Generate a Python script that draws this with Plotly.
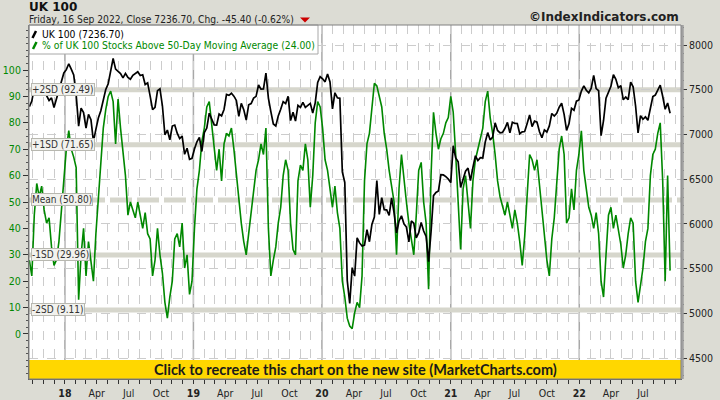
import pandas as pd
import plotly.graph_objects as go

# ---------------- data (weekly readings, Fridays) ----------------
week_start = "2017-09-22"

uk100 = [
    7310, 7373, 7522, 7535, 7523, 7505, 7560, 7433, 7380, 7409,
    7300, 7394, 7490, 7603, 7688, 7724, 7790, 7730, 7665, 7443,
    7092, 7294, 7244, 7070, 7224, 7164, 6922, 7057, 7184, 7265,
    7368, 7502, 7567, 7724, 7850, 7730, 7701, 7681, 7633, 7682,
    7637, 7617, 7661, 7678, 7701, 7659, 7667, 7558, 7577, 7432,
    7277, 7304, 7490, 7510, 7318, 6996, 7049, 6940, 7094, 7105,
    7014, 6953, 6980, 6778, 6845, 6721, 6733, 6837, 6918, 6968,
    6809, 7020, 7071, 7237, 7178, 7107, 7104, 7228, 7208, 7279,
    7447, 7437, 7460, 7428, 7380, 7203, 7348, 7277, 7161, 7331,
    7345, 7407, 7426, 7553, 7506, 7508, 7686, 7407, 7254, 7117,
    7095, 7207, 7282, 7367, 7345, 7426, 7155, 7247, 7150, 7324,
    7302, 7359, 7302, 7327, 7347, 7240, 7353, 7582, 7645, 7622,
    7588, 7675, 7586, 7286, 7466, 7409, 7404, 6581, 6463, 5366,
    5110, 5510, 5416, 5843, 5787, 5752, 5763, 5936, 5800, 5993,
    6077, 6484, 6105, 6293, 6159, 6157, 6095, 6290, 6123, 5898,
    6032, 6090, 6001, 5964, 5799, 6032, 6007, 5843, 5902, 6016,
    5920, 5860, 5577, 5910, 6316, 6351, 6368, 6550, 6547, 6529,
    6502, 6461, 6873, 6736, 6695, 6407, 6489, 6589, 6624, 6483,
    6631, 6761, 6709, 6741, 6737, 6916, 7020, 6938, 6970, 7130,
    7044, 7018, 7023, 7069, 7134, 7017, 7136, 7123, 7122, 7008,
    7028, 7032, 7123, 7218, 7087, 7148, 7138, 7029, 6963, 7051,
    7027, 7095, 7234, 7205, 7237, 7304, 7348, 7224, 7044, 7122,
    7292, 7270, 7372, 7385, 7485, 7543, 7494, 7466, 7516, 7661,
    7513, 7489, 6987, 7156, 7405, 7483, 7538, 7669, 7616, 7521,
    7545, 7388, 7418, 7390, 7585, 7533, 7318, 7016, 7209, 7169,
    7196, 7159, 7276, 7423, 7440, 7501, 7551, 7427, 7281, 7351,
    7236.70,
]

pct_above_50dma = [
    28, 22, 45, 57, 52, 56, 47, 42, 44, 33,
    26, 28, 35, 46, 58, 70, 77, 70, 67, 63,
    13, 30, 40, 22, 35, 28, 20, 38, 52, 68,
    78, 85, 90, 92, 88, 72, 89, 78, 68, 60,
    45, 50, 47, 44, 50, 45, 40, 46, 38, 36,
    22, 28, 40, 30, 23, 12, 6, 14, 20, 36,
    38, 33, 42, 25, 30, 15, 20, 40, 55, 62,
    73, 78, 86, 88, 80, 72, 62, 70, 58, 72,
    76, 75, 78, 70, 60, 50, 42, 35, 30, 38,
    46, 55, 62, 66, 72, 68, 78, 40, 22, 28,
    33, 42, 48, 60, 66, 62, 42, 32, 30, 58,
    64, 62, 72, 66, 48, 60, 80, 88, 86, 78,
    66, 62, 54, 48, 56, 46, 40, 20, 14, 6,
    3, 2, 8, 12, 10, 22, 58, 72, 76, 85,
    95, 94, 90, 86, 76, 70, 62, 56, 50, 30,
    55, 68, 58, 50, 42, 36, 30, 45, 62, 65,
    50, 42, 17, 60, 84, 76, 70, 74, 76, 80,
    82, 90, 84, 68, 52, 32, 55, 60, 50, 40,
    58, 66, 70, 74, 78, 88, 92, 82, 76, 68,
    58, 52, 48, 45, 50, 45, 40, 47, 42, 35,
    26, 37, 52, 68, 66, 62, 66, 56, 45, 36,
    28, 22, 36, 44, 56, 70, 75, 68, 42, 44,
    55, 47, 62, 68, 77, 62, 55, 48, 45, 40,
    46, 38, 20, 14, 30, 45, 48, 40, 45, 40,
    34, 25, 30, 38, 44, 42, 20, 12, 18, 25,
    35, 40, 60, 68, 70, 76, 80, 58, 20, 60,
    24,
]

band_values = [92.49, 71.65, 50.80, 29.96, 9.11]
band_labels = ["+2SD (92.49)", "+1SD (71.65)", "Mean (50.80)", "-1SD (29.96)", "-2SD (9.11)"]

left_ticks = [0, 10, 20, 30, 40, 50, 60, 70, 80, 90, 100]
right_ticks = [4500, 5000, 5500, 6000, 6500, 7000, 7500, 8000]
year_starts = ["2018-01-01", "2019-01-01", "2020-01-01", "2021-01-01", "2022-01-01"]

title_text = "UK 100"
subtitle_text = "Friday, 16 Sep 2022, Close 7236.70, Chg. -45.40 (-0.62%)"
legend_text_1 = "UK 100 (7236.70)"
legend_text_2 = "% of UK 100 Stocks Above 50-Day Moving Average (24.00)"
copyright_text = "©IndexIndicators.com"
banner_text = "Click to recreate this chart on the new site (MarketCharts.com)"

# ---------------- derived ----------------
dates = pd.date_range(week_start, periods=len(uk100), freq="7D")
month_ticks = pd.date_range("2017-10-01", "2022-10-01", freq="MS")
month_labels = []
for i, d in enumerate(month_ticks):
    if i == 0 or i == len(month_ticks) - 1:
        month_labels.append("")
    elif d.month == 1:
        month_labels.append("<b>" + d.strftime("%y") + "</b>")
    elif d.month in (4, 7, 10):
        month_labels.append(d.strftime("%b"))
    else:
        month_labels.append("")

# pixel helpers (plot area: x 29..681, y 25..379)
PL, PR, PT, PB = 29, 681, 25, 379
def px(x):
    return (x - PL) / (PR - PL)
def py(y):
    return (PB - y) / (PB - PT)

REG = "DejaVu Sans Condensed, DejaVu Sans, sans-serif"
BOLD = "DejaVu Sans, sans-serif"
GREEN = "#008800"

fig = go.Figure()
fig.add_trace(go.Scatter(x=dates, y=pct_above_50dma, mode="lines", yaxis="y",
                         line=dict(color=GREEN, width=1.6), hoverinfo="skip"))
fig.add_trace(go.Scatter(x=dates, y=uk100, mode="lines", yaxis="y2",
                         line=dict(color="#000000", width=1.7), hoverinfo="skip"))

shapes = []
# year lines
for ys in year_starts:
    shapes.append(dict(type="line", xref="x", yref="paper", x0=ys, x1=ys, y0=0, y1=1,
                       line=dict(color="#a8a8a8", width=1.5), layer="between"))
# SD bands
for v, lab in zip(band_values, band_labels):
    shapes.append(dict(type="line", xref="paper", yref="y", x0=0, x1=1, y0=v, y1=v,
                       line=dict(color="#d6d6cc", width=5,
                                 dash="22px,5px" if lab.startswith("Mean") else "solid"),
                       layer="between"))
# yellow banner
shapes.append(dict(type="rect", xref="paper", yref="paper", x0=0, x1=1, y0=0, y1=py(360),
                   fillcolor="#FFD700", line=dict(width=0), layer="above"))
# legend box
shapes.append(dict(type="rect", xref="paper", yref="paper", x0=0, x1=px(318), y0=py(54), y1=1,
                   fillcolor="#ffffff", line=dict(color="#a8a8a8", width=1), layer="above"))
shapes.append(dict(type="line", xref="paper", yref="paper", x0=px(32.5), x1=px(36), y0=py(38), y1=py(31),
                   line=dict(color="#000000", width=2.5), layer="above"))
shapes.append(dict(type="line", xref="paper", yref="paper", x0=px(33), x1=px(36.5), y0=py(49), y1=py(42),
                   line=dict(color=GREEN, width=2.5), layer="above"))
# red down triangle
shapes.append(dict(type="path", xref="paper", yref="paper",
                   path="M %f,%f L %f,%f L %f,%f Z" % (px(300), py(17.5), px(310), py(17.5), px(305), py(22.5)),
                   fillcolor="#cc0000", line=dict(width=0), layer="above"))
# plot border
shapes.append(dict(type="rect", xref="paper", yref="paper", x0=0, x1=1, y0=0, y1=1,
                   line=dict(color="#808080", width=1), layer="above"))
shapes.append(dict(type="line", xref="paper", yref="paper", x0=px(682.5), x1=px(682.5), y0=0, y1=1,
                   line=dict(color="#a0a0a0", width=2.5), layer="above"))

annotations = []
for v, lab in zip(band_values, band_labels):
    annotations.append(dict(xref="paper", yref="y", x=0, y=v, xanchor="left", yanchor="middle",
                            xshift=2, text=lab, showarrow=False,
                            font=dict(family=REG, size=10, color="#333333"),
                            bgcolor="#f2f2ee", bordercolor="#b8b8b0", borderwidth=1, borderpad=0))
annotations.append(dict(xref="paper", yref="paper", x=px(27), y=py(7), xanchor="left", yanchor="middle",
                        text="<b>" + title_text + "</b>", showarrow=False,
                        font=dict(family=BOLD, size=12, color="#111111")))
annotations.append(dict(xref="paper", yref="paper", x=px(27), y=py(19), xanchor="left", yanchor="middle",
                        text=subtitle_text, showarrow=False,
                        font=dict(family=REG, size=10.2, color="#222222")))
annotations.append(dict(xref="paper", yref="paper", x=px(681), y=py(17), xanchor="right", yanchor="middle",
                        text="<b>" + copyright_text + "</b>", showarrow=False,
                        font=dict(family=BOLD, size=12, color="#222222")))
annotations.append(dict(xref="paper", yref="paper", x=px(40), y=py(34), xanchor="left", yanchor="middle",
                        text=legend_text_1, showarrow=False,
                        font=dict(family=REG, size=10.3, color="#000000")))
annotations.append(dict(xref="paper", yref="paper", x=px(40), y=py(45), xanchor="left", yanchor="middle",
                        text=legend_text_2, showarrow=False,
                        font=dict(family=REG, size=10.3, color=GREEN)))
annotations.append(dict(xref="paper", yref="paper", x=0.5, y=py(369.5), xanchor="center", yanchor="middle",
                        text="<b>" + banner_text + "</b>", showarrow=False,
                        font=dict(family="Lato, sans-serif", size=14.5, color="#1a1a1a")))

fig.update_layout(
    width=720, height=400,
    margin=dict(l=PL, r=720 - PR, t=PT, b=400 - PB, pad=0, autoexpand=False),
    paper_bgcolor="#dcdcd4",
    plot_bgcolor="#ffffff",
    showlegend=False,
    xaxis=dict(type="date", range=["2017-09-21", "2022-10-17"], automargin=False,
               tickmode="array", tickvals=list(month_ticks), ticktext=month_labels,
               ticks="outside", ticklen=4, tickcolor="#333333", tickwidth=1,
               showgrid=True, gridcolor="#cccccc", griddash="dash", gridwidth=1,
               showline=True, linecolor="#666666", linewidth=1, zeroline=False,
               tickfont=dict(family=REG, size=10.5, color="#222222")),
    yaxis=dict(range=[-17.05, 117.05], side="left", tickmode="array", tickvals=left_ticks,
               automargin=False,
               ticks="outside", ticklen=5, tickcolor="#333333",
               minor=dict(dtick=2.5, tick0=0, ticklen=2, ticks="outside", tickcolor="#555555", showgrid=False),
               showgrid=False, zeroline=False, showline=True, linecolor="#666666",
               tickfont=dict(family=REG, size=10.5, color=GREEN)),
    yaxis2=dict(range=[4265.2, 8223.6], side="right", overlaying="y", tickmode="array", tickvals=right_ticks,
                automargin=False,
                ticks="outside", ticklen=5, tickcolor="#333333",
                minor=dict(dtick=100, tick0=4500, ticklen=2, ticks="outside", tickcolor="#555555", showgrid=False),
                showgrid=True, gridcolor="#cccccc", griddash="dash", gridwidth=1,
                zeroline=False, showline=True, linecolor="#666666",
                tickfont=dict(family=REG, size=10.5, color="#222222")),
    shapes=shapes,
    annotations=annotations,
)

fig.write_html("out.html", config={"displayModeBar": False},
               post_script="document.body.style.margin='0px';document.body.style.overflow='hidden';")
